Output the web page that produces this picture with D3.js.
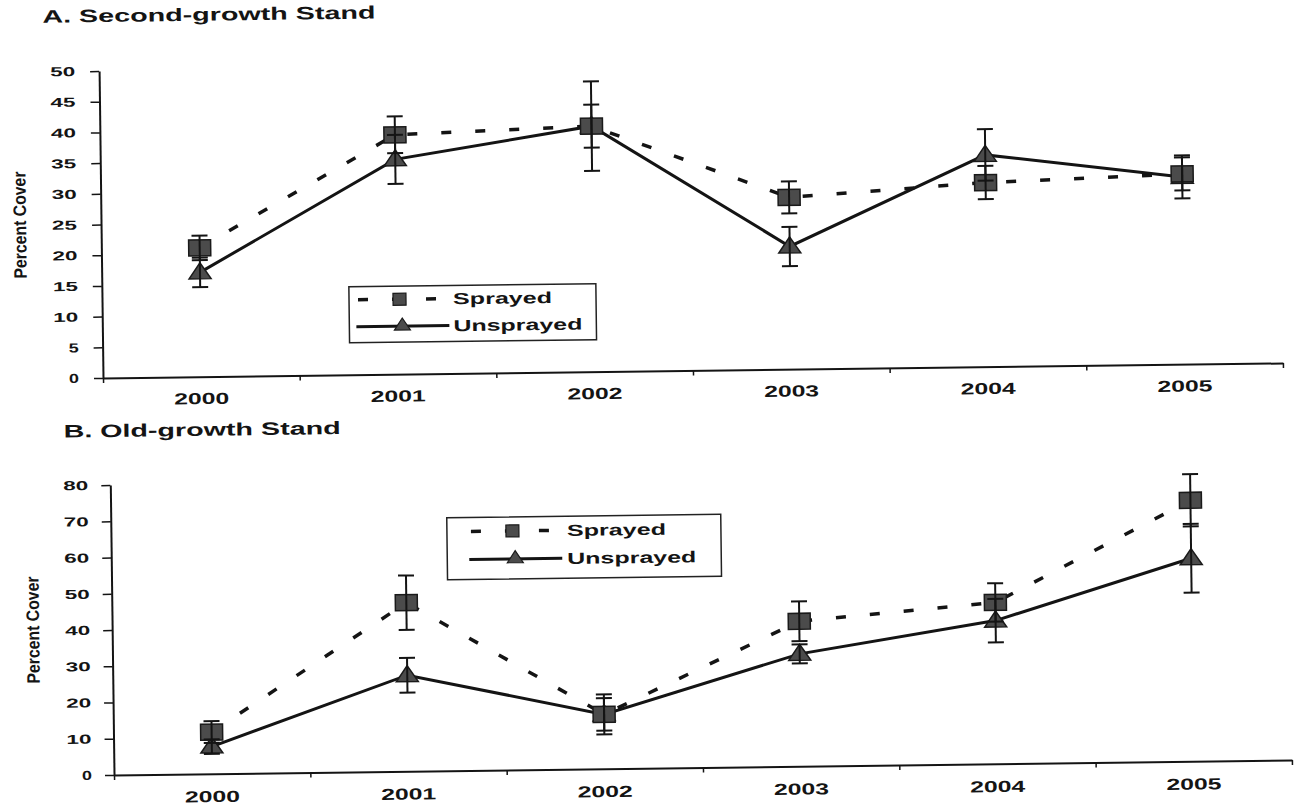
<!DOCTYPE html>
<html>
<head>
<meta charset="utf-8">
<script src="https://cdn.jsdelivr.net/npm/d3@7"></script>
<style>
  html, body { margin: 0; padding: 0; background: #fff; }
  svg { display: block; }
  text { font-family: "Liberation Sans", Arial, sans-serif; fill: #141414; }
</style>
</head>
<body>
<svg id="chart" width="1302" height="811"></svg>
<script>
// Sampling years shared by both stands
const years = ["2000", "2001", "2002", "2003", "2004", "2005"];
const seriesNames = ["Sprayed", "Unsprayed"];

// A. Second-growth stand: mean percent cover and standard error
const secondSprayed     = [21, 39, 40, 28, 30, 31];
const secondSprayedSE   = [2, 3, 3.5, 2.6, 2.7, 2.7];
const secondUnsprayed   = [17, 35, 40, 20, 34.5, 30.5];
const secondUnsprayedSE = [2.4, 4, 7.3, 3.2, 4.2, 3.5];
const secondTicks = [0, 5, 10, 15, 20, 25, 30, 35, 40, 45, 50];

// B. Old-growth stand: mean percent cover and standard error
const oldSprayed     = [11.5, 46.5, 15, 40, 44.5, 72];
const oldSprayedSE   = [3, 7.5, 4.5, 5.5, 5.3, 7.2];
const oldUnsprayed   = [7.5, 26.5, 15, 31, 39.5, 56];
const oldUnsprayedSE = [2, 4.8, 5.5, 2.6, 6, 9.5];
const oldTicks = [0, 10, 20, 30, 40, 50, 60, 70, 80];

const svg = d3.select("#chart");
const tilt = -0.73;   // the printed figure sits at a slight angle
const ink = "#141414";
const markFill = "#4b4b4b";

function trianglePath(w, h) {
  return `M0,${-h * 0.6}L${w / 2},${h * 0.4}L${-w / 2},${h * 0.4}Z`;
}

function drawPanel(cfg) {
  const g = svg.append("g")
    .attr("transform", `translate(${cfg.ox},${cfg.oy}) rotate(${tilt}) translate(0,${-cfg.H})`);

  const x = d3.scaleBand().domain(years).range([0, cfg.W]);
  const xEdge = d3.scaleLinear().domain([0, years.length]).range([0, cfg.W]);
  const y = d3.scaleLinear().domain([0, cfg.yMax]).range([cfg.H, 0]);
  const cx = yr => x(yr) + x.bandwidth() / 2;

  // Title
  g.append("text")
    .attr("x", cfg.titleX).attr("y", cfg.titleY)
    .attr("font-size", 18).attr("font-weight", "bold")
    .attr("textLength", cfg.titleW).attr("lengthAdjust", "spacingAndGlyphs")
    .text(cfg.title);

  // X axis: baseline with tick marks between the years
  const xa = g.append("g").attr("transform", `translate(0,${cfg.H})`)
    .call(d3.axisBottom(xEdge).tickValues(d3.range(years.length + 1))
      .tickFormat("").tickSize(5).tickSizeOuter(0));
  xa.select(".domain").attr("stroke", ink).attr("stroke-width", 2);
  xa.selectAll(".tick line").attr("stroke", ink).attr("stroke-width", 1.5);

  // Year labels centred in each band
  const xl = g.append("g").attr("transform", `translate(0,${cfg.H})`)
    .call(d3.axisBottom(x).tickSize(0).tickPadding(cfg.xPad));
  xl.select(".domain").remove();
  xl.selectAll("text")
    .attr("font-size", 16).attr("font-weight", "bold")
    .attr("textLength", 55).attr("lengthAdjust", "spacingAndGlyphs");

  // Y axis
  const ya = g.append("g")
    .call(d3.axisLeft(y).tickValues(cfg.ticks).tickSize(9).tickPadding(cfg.yPad).tickSizeOuter(0));
  ya.select(".domain").attr("stroke", ink).attr("stroke-width", 2);
  ya.selectAll(".tick line").attr("stroke", ink).attr("stroke-width", 1.5);
  ya.selectAll("text")
    .attr("font-size", 13).attr("font-weight", "bold")
    .attr("textLength", d => String(d).length === 1 ? 10 : 25)
    .attr("lengthAdjust", "spacingAndGlyphs");

  // Y axis title
  g.append("text")
    .attr("transform", `translate(${cfg.yTitleX},${cfg.yTitleY}) rotate(-90)`)
    .attr("text-anchor", "middle")
    .attr("font-size", 18).attr("font-weight", "bold")
    .attr("textLength", 107).attr("lengthAdjust", "spacingAndGlyphs")
    .text("Percent Cover");

  const line = d3.line().x((d, i) => cx(years[i])).y(d => y(d));

  // Connecting lines
  g.append("path").datum(cfg.sprayed)
    .attr("d", line).attr("fill", "none")
    .attr("stroke", ink).attr("stroke-width", 3.5).attr("stroke-dasharray", "10,24");
  g.append("path").datum(cfg.unsprayed)
    .attr("d", line).attr("fill", "none")
    .attr("stroke", ink).attr("stroke-width", 3);

  // Markers: triangles underneath, squares on top
  g.selectAll(".tri").data(cfg.unsprayed).join("path")
    .attr("transform", (d, i) => `translate(${cx(years[i])},${y(d)})`)
    .attr("d", trianglePath(22, 16))
    .attr("fill", markFill).attr("stroke", "#1a1a1a").attr("stroke-width", 1.5);
  g.selectAll(".sq").data(cfg.sprayed).join("rect")
    .attr("x", (d, i) => cx(years[i]) - 11).attr("y", d => y(d) - 8)
    .attr("width", 22).attr("height", 16)
    .attr("fill", markFill).attr("stroke", "#1a1a1a").attr("stroke-width", 1.5);

  // Error bars (mean ± SE)
  const bars = [
    ...cfg.sprayed.map((v, i) => ({ i, v, e: cfg.sprayedSE[i] })),
    ...cfg.unsprayed.map((v, i) => ({ i, v, e: cfg.unsprayedSE[i] }))
  ];
  const eb = g.append("g").attr("stroke", ink).attr("stroke-width", 2);
  bars.forEach(b => {
    const px = cx(years[b.i]);
    const y1 = y(b.v + b.e), y0 = y(b.v - b.e);
    eb.append("line").attr("x1", px).attr("x2", px).attr("y1", y1).attr("y2", y0);
    eb.append("line").attr("x1", px - 8).attr("x2", px + 8).attr("y1", y1).attr("y2", y1);
    eb.append("line").attr("x1", px - 8).attr("x2", px + 8).attr("y1", y0).attr("y2", y0);
  });

  // Legend
  const L = cfg.legend;
  const lg = g.append("g");
  lg.append("rect")
    .attr("x", L.x).attr("y", L.y).attr("width", L.w).attr("height", L.h)
    .attr("fill", "#fff").attr("stroke", "#222").attr("stroke-width", 1.5);
  // Sprayed row
  lg.append("line")
    .attr("x1", L.symX).attr("x2", L.symX + 78).attr("y1", L.row1).attr("y2", L.row1)
    .attr("stroke", ink).attr("stroke-width", 3.5).attr("stroke-dasharray", "10,24");
  lg.append("rect")
    .attr("x", L.symX + 35).attr("y", L.row1 - 6).attr("width", 13).attr("height", 12)
    .attr("fill", markFill).attr("stroke", "#1a1a1a").attr("stroke-width", 1.2);
  lg.append("text")
    .attr("x", L.textX).attr("y", L.row1).attr("dy", "0.36em")
    .attr("font-size", 16).attr("font-weight", "bold")
    .attr("textLength", 99).attr("lengthAdjust", "spacingAndGlyphs")
    .text(seriesNames[0]);
  // Unsprayed row
  lg.append("line")
    .attr("x1", L.symX - 2).attr("x2", L.symX + 91).attr("y1", L.row2).attr("y2", L.row2)
    .attr("stroke", ink).attr("stroke-width", 3);
  lg.append("path")
    .attr("transform", `translate(${L.symX + 44},${L.row2 - 1})`)
    .attr("d", trianglePath(16, 12))
    .attr("fill", markFill).attr("stroke", "#1a1a1a").attr("stroke-width", 1.2);
  lg.append("text")
    .attr("x", L.textX).attr("y", L.row2).attr("dy", "0.36em")
    .attr("font-size", 16).attr("font-weight", "bold")
    .attr("textLength", 129).attr("lengthAdjust", "spacingAndGlyphs")
    .text(seriesNames[1]);
}

drawPanel({
  ox: 103, oy: 378, W: 1180, H: 307, yMax: 50, ticks: secondTicks,
  title: "A. Second-growth Stand", titleX: -56, titleY: -49, titleW: 333,
  xPad: 16, yPad: 15, yTitleX: -75, yTitleY: 153,
  sprayed: secondSprayed, sprayedSE: secondSprayedSE,
  unsprayed: secondUnsprayed, unsprayedSE: secondUnsprayedSE,
  legend: { x: 247, y: 219, w: 247, h: 56, row1: 232, row2: 259, symX: 256, textX: 351 }
});

drawPanel({
  ox: 114, oy: 775, W: 1178, H: 290, yMax: 80, ticks: oldTicks,
  title: "B. Old-growth Stand", titleX: -46, titleY: -48, titleW: 277,
  xPad: 17, yPad: 13, yTitleX: -73, yTitleY: 144,
  sprayed: oldSprayed, sprayedSE: oldSprayedSE,
  unsprayed: oldUnsprayed, unsprayedSE: oldUnsprayedSE,
  legend: { x: 336, y: 37, w: 274, h: 62, row1: 51, row2: 79, symX: 360, textX: 456 }
});
</script>
</body>
</html>
